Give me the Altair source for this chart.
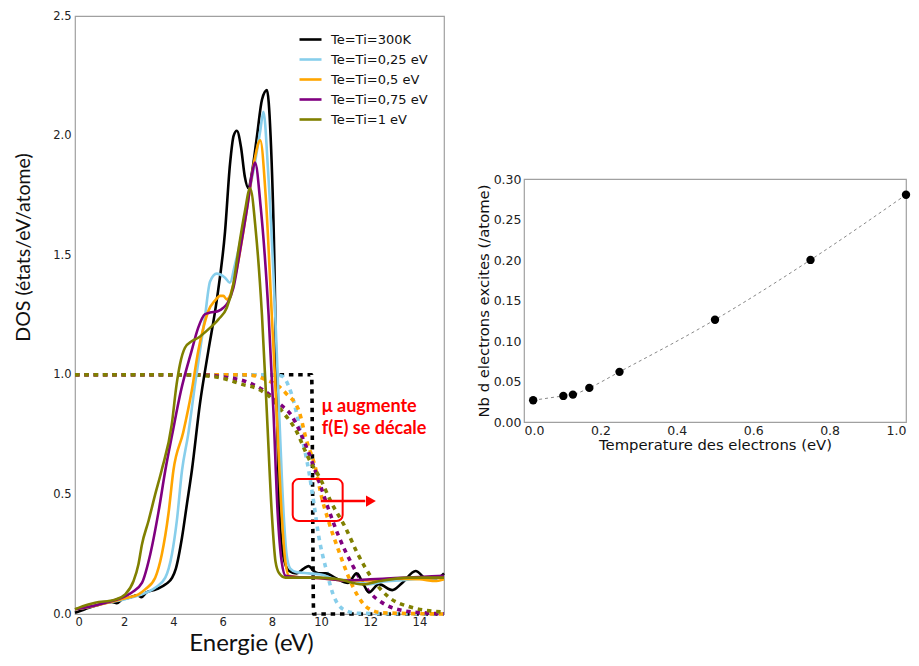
import altair as alt
import pandas as pd

# ---------------- data ----------------
SERIES = ["Te=Ti=300K", "Te=Ti=0,25 eV", "Te=Ti=0,5 eV", "Te=Ti=0,75 eV", "Te=Ti=1 eV"]
COLORS = ["#000000", "#87CEEB", "#FFA500", "#800080", "#808000"]

# DOS curves (solid)
dos_e_300k = [0, 0.4, 1.0, 1.5, 1.7, 1.9, 2.2, 2.55, 2.7, 2.9, 3.3, 3.7, 3.95, 4.1, 4.35, 4.55, 4.75,
              5.08, 5.42, 5.76, 6.1, 6.3, 6.45, 6.58, 6.75, 6.9, 7.05, 7.2, 7.4, 7.6, 7.8, 7.95, 8.1,
              8.2, 8.3, 8.45, 8.7, 9.0, 9.3, 9.5, 9.7, 9.9, 10.2, 10.6, 11.1, 11.45, 11.7, 11.95,
              12.35, 12.9, 13.3, 13.85, 14.27, 14.7, 15]
dos_v_300k = [0.005, 0.02, 0.04, 0.05, 0.045, 0.06, 0.068, 0.078, 0.07, 0.09, 0.103, 0.125, 0.152,
              0.19, 0.32, 0.46, 0.6, 0.88, 1.1, 1.31, 1.6, 1.88, 2.0, 2.02, 1.95, 1.83, 1.78, 1.85,
              2.0, 2.15, 2.19, 2.0, 1.5, 0.9, 0.45, 0.25, 0.18, 0.17, 0.19, 0.2, 0.18, 0.17, 0.17,
              0.15, 0.13, 0.17, 0.13, 0.09, 0.125, 0.1, 0.13, 0.18, 0.15, 0.15, 0.17]

dos_e_025 = [0, 0.41, 1.36, 2.04, 2.72, 3.26, 3.67, 3.94, 4.14, 4.35, 4.6, 4.88, 5.08, 5.28, 5.49,
             5.76, 6.1, 6.3, 6.5, 6.64, 7.0, 7.32, 7.53, 7.66, 7.85, 8.14, 8.3, 8.48, 8.6, 8.75,
             9.0, 9.5, 10.0, 10.6, 11.4, 11.95, 12.5, 13.3, 14.0, 15]
dos_v_025 = [0.02, 0.026, 0.048, 0.062, 0.082, 0.11, 0.152, 0.25, 0.39, 0.6, 0.75, 0.96, 1.10, 1.24,
             1.39, 1.423, 1.406, 1.385, 1.46, 1.52, 1.72, 1.89, 2.02, 2.10, 1.85, 1.25, 0.84, 0.42,
             0.25, 0.19, 0.175, 0.17, 0.165, 0.145, 0.138, 0.124, 0.135, 0.141, 0.148, 0.152]

dos_e_05 = [0, 0.41, 1.36, 2.04, 2.58, 2.85, 3.26, 3.53, 3.8, 4.0, 4.4, 4.74, 5.01, 5.22, 5.42, 5.69,
            5.9, 6.03, 6.17, 6.3, 6.44, 6.64, 7.0, 7.3, 7.53, 7.75, 8.0, 8.2, 8.4, 8.55, 8.7, 9.0,
            10.0, 11.0, 12.0, 13.0, 14.0, 14.7, 15]
dos_v_05 = [0.02, 0.026, 0.048, 0.066, 0.082, 0.103, 0.152, 0.25, 0.42, 0.6, 0.76, 0.93, 1.1, 1.197,
            1.267, 1.31, 1.33, 1.33, 1.315, 1.33, 1.38, 1.476, 1.7, 1.9, 1.98, 1.75, 1.25, 0.84,
            0.42, 0.22, 0.16, 0.155, 0.15, 0.14, 0.14, 0.148, 0.145, 0.138, 0.145]

dos_e_075 = [0, 0.27, 1.36, 1.9, 2.31, 2.72, 3.06, 3.4, 3.67, 3.95, 4.3, 4.74, 5.01, 5.28, 5.49,
             5.83, 6.03, 6.2, 6.44, 6.71, 7.0, 7.2, 7.32, 7.55, 7.87, 8.07, 8.24, 8.4, 8.56, 9.0,
             10.0, 11.0, 12.0, 13.0, 14.0, 15]
dos_v_075 = [0.02, 0.024, 0.05, 0.068, 0.09, 0.13, 0.25, 0.43, 0.6, 0.75, 0.93, 1.1, 1.197, 1.253,
             1.26, 1.267, 1.28, 1.3, 1.364, 1.52, 1.7, 1.84, 1.887, 1.7, 1.25, 0.84, 0.42, 0.22,
             0.16, 0.155, 0.15, 0.14, 0.145, 0.15, 0.155, 0.16]

dos_e_1 = [0, 0.54, 0.82, 1.63, 2.04, 2.38, 2.58, 2.72, 2.99, 3.26, 3.52, 3.93, 4.13, 4.27, 4.47,
           4.74, 5.01, 5.42, 5.83, 6.17, 6.44, 6.64, 6.9, 7.12, 7.35, 7.6, 7.8, 8.0, 8.15, 8.3,
           8.55, 9.91, 10.7, 11.7, 12.4, 13.6, 15]
dos_v_1 = [0.02, 0.04, 0.047, 0.06, 0.082, 0.138, 0.208, 0.29, 0.39, 0.5, 0.6, 0.79, 0.96, 1.045,
           1.113, 1.14, 1.155, 1.19, 1.232, 1.28, 1.38, 1.52, 1.68, 1.78, 1.6, 1.25, 0.84, 0.42,
           0.22, 0.17, 0.152, 0.152, 0.145, 0.124, 0.138, 0.152, 0.152]

# occupation f(E) curves (dotted)
f_e_300k = [0, 9.62, 9.7, 15]
f_v_300k = [1.0, 1.0, 0.0, 0.0]

f_e_025 = [0, 8.0, 8.4, 8.8, 9.2, 9.5, 9.7, 9.9, 10.2, 10.5, 10.9, 11.5, 15]
f_v_025 = [1.0, 1.0, 0.995, 0.92, 0.75, 0.6, 0.47, 0.33, 0.19, 0.08, 0.02, 0.003, 0.0]

f_e_05 = [0, 7.0, 7.75, 8.3, 8.6, 9.1, 9.4, 9.8, 10.0, 10.3, 10.7, 11.1, 11.5, 11.9, 12.5, 15]
f_v_05 = [1.0, 1.0, 0.98, 0.95, 0.92, 0.85, 0.73, 0.6, 0.5, 0.39, 0.27, 0.16, 0.075, 0.025, 0.005, 0.0]

f_e_075 = [0, 5.0, 6.1, 7.0, 7.87, 8.3, 8.8, 9.4, 9.9, 10.3, 10.7, 11.25, 11.9, 12.6, 13.3, 14.3, 15]
f_v_075 = [1.0, 1.0, 0.99, 0.97, 0.92, 0.88, 0.83, 0.7, 0.56, 0.44, 0.33, 0.21, 0.1, 0.04, 0.015,
           0.004, 0.001]

f_e_1 = [0, 4.5, 5.8, 6.8, 7.46, 8.0, 8.4, 8.97, 9.5, 10.0, 10.4, 11.0, 11.5, 12.07, 12.76, 13.6,
         14.3, 15]
f_v_1 = [1.0, 1.0, 0.99, 0.96, 0.94, 0.9, 0.85, 0.77, 0.65, 0.56, 0.47, 0.36, 0.25, 0.15, 0.07,
         0.03, 0.015, 0.008]

# right panel: excited electrons vs electron temperature
temp_ev = [0.024, 0.103, 0.128, 0.171, 0.25, 0.5, 0.75, 1.0]
n_excited = [0.0268, 0.0322, 0.0338, 0.0421, 0.0619, 0.1263, 0.2001, 0.2806]

# annotation texts / positions (data units)
annot_lines = ["μ augmente", "f(E) se décale"]
annot_x = [10.03, 10.03]
annot_y = [0.845, 0.753]
box_x = [8.85]
box_x2 = [10.88]
box_y = [0.389]
box_y2 = [0.564]
arrow_x = [9.99]
arrow_x2 = [11.8]
arrow_y = [0.472]
head_x = [12.03]

# ---------------- build tables ----------------
dos_sets = [(dos_e_300k, dos_v_300k), (dos_e_025, dos_v_025), (dos_e_05, dos_v_05),
            (dos_e_075, dos_v_075), (dos_e_1, dos_v_1)]
f_sets = [(f_e_300k, f_v_300k), (f_e_025, f_v_025), (f_e_05, f_v_05),
          (f_e_075, f_v_075), (f_e_1, f_v_1)]


def frame(sets):
    rows = []
    for name, (es, vs) in zip(SERIES, sets):
        for i, (e, v) in enumerate(zip(es, vs)):
            rows.append({"serie": name, "E": e, "V": v, "i": i})
    return pd.DataFrame(rows)


dos_df = frame(dos_sets)
f_df = frame(f_sets)

TICK_FONT = "DejaVu Sans"
TITLE_FONT = "Lato"

x_enc = alt.X("E:Q", scale=alt.Scale(domain=[0, 15], nice=False, zero=False),
              axis=alt.Axis(values=[0, 2, 4, 6, 8, 10, 12, 14], title="Energie (eV)",
                            labelFont=TICK_FONT, labelFontSize=11.5, labelColor="#222",
                            labelPadding=2, titleFont=TITLE_FONT, titleFontSize=24,
                            titleFontWeight="normal", titleColor="#111", titlePadding=4,
                            titleX=176))
y_enc = alt.Y("V:Q", scale=alt.Scale(domain=[0, 2.5], nice=False),
              axis=alt.Axis(values=[0, 0.5, 1.0, 1.5, 2.0, 2.5], format=".1f",
                            title="DOS (états/eV/atome)", labelFont=TICK_FONT,
                            labelFontSize=11.5, labelColor="#222", labelPadding=4,
                            titleFont=TITLE_FONT, titleFontSize=19.5, titleFontWeight="normal",
                            titleColor="#111", titlePadding=19, titleY=231))
color_scale = alt.Scale(domain=SERIES, range=COLORS)
legend = alt.Legend(title=None, orient="none", legendX=226, legendY=14,
                    symbolType="M-1.375,0H1.375", symbolSize=256, symbolStrokeWidth=2.6,
                    symbolDash=[30, 0],
                    labelFont=TICK_FONT, labelFontSize=13, labelColor="#111",
                    labelOffset=11, rowPadding=3, padding=0)
color_enc = alt.Color("serie:N", scale=color_scale, legend=legend)

layers = []
for k, name in enumerate(SERIES):
    layers.append(
        alt.Chart(f_df).transform_filter(alt.datum.serie == name)
        .mark_line(strokeWidth=3.6, strokeDash=[4.5, 4.8], strokeCap="butt", interpolate="monotone")
        .encode(x=x_enc, y=y_enc, order="i:Q", color=color_enc)
    )
for k, name in enumerate(SERIES):
    layers.append(
        alt.Chart(dos_df).transform_filter(alt.datum.serie == name)
        .mark_line(strokeWidth=2.6, interpolate="monotone")
        .encode(x=x_enc, y=y_enc, order="i:Q", color=color_enc)
    )

box_df = pd.DataFrame({"E": box_x, "E2": box_x2, "V": box_y, "V2": box_y2})
box = alt.Chart(box_df).mark_rect(fillOpacity=0, stroke="#FF0000", strokeWidth=2,
                                  cornerRadius=6).encode(x="E:Q", x2="E2:Q", y="V:Q", y2="V2:Q")
arrow_df = pd.DataFrame({"E": arrow_x, "E2": arrow_x2, "V": arrow_y})
arrow = alt.Chart(arrow_df).mark_rule(color="#FF0000", strokeWidth=2.5).encode(
    x="E:Q", x2="E2:Q", y="V:Q")
head_df = pd.DataFrame({"E": head_x, "V": arrow_y})
head = alt.Chart(head_df).mark_point(shape="triangle-right", filled=True, color="#FF0000",
                                     opacity=1, size=130).encode(x="E:Q", y="V:Q")
text_df = pd.DataFrame({"E": annot_x, "V": annot_y, "t": annot_lines})
texts = alt.Chart(text_df).mark_text(align="left", baseline="alphabetic", font=TITLE_FONT,
                                     fontSize=18, fontWeight="bold", color="#FF0000").encode(
    x="E:Q", y="V:Q", text="t:N")

left = alt.layer(*layers, box, arrow, head, texts).properties(width=369, height=598)

# ---------------- right panel ----------------
r_df = pd.DataFrame({"T": temp_ev, "N": n_excited})
rx = alt.X("T:Q", scale=alt.Scale(domain=[0, 1], nice=False),
           axis=alt.Axis(values=[0, 0.2, 0.4, 0.6, 0.8, 1.0], format=".1f",
                         title="Temperature des electrons (eV)", labelFont=TICK_FONT,
                         labelFontSize=12.5, labelColor="#222", labelPadding=2,
                         titleFont=TICK_FONT, titleFontSize=14.8, titleFontWeight="normal",
                         titleColor="#111", titlePadding=1))
ry = alt.Y("N:Q", scale=alt.Scale(domain=[0, 0.3], nice=False),
           axis=alt.Axis(values=[0, 0.05, 0.1, 0.15, 0.2, 0.25, 0.3], format=".2f",
                         title="Nb d electrons excites (/atome)", labelFont=TICK_FONT,
                         labelFontSize=12.5, labelColor="#222", labelPadding=3,
                         titleFont=TICK_FONT, titleFontSize=14.8, titleFontWeight="normal",
                         titleColor="#111", titlePadding=2))
r_line = alt.Chart(r_df).mark_line(color="#888888", strokeWidth=1, strokeDash=[3, 3],
                                   interpolate="monotone").encode(x=rx, y=ry)
r_pts = alt.Chart(r_df).mark_circle(color="#000000", opacity=1, size=70).encode(x=rx, y=ry)
right = alt.layer(r_line, r_pts).properties(width=382, height=243)

spacer = alt.Chart(pd.DataFrame({"s": [0]})).mark_point(opacity=0, size=0).encode(
    x=alt.X("s:Q", axis=None), y=alt.Y("s:Q", axis=None)
).properties(width=300, height=156, view=alt.ViewBackground(stroke=None))

chart = alt.hconcat(left, alt.vconcat(spacer, right, spacing=0), spacing=23).properties(
    padding={"left": 5, "top": 1, "right": 0, "bottom": 0}
).configure_view(stroke="#a0a0a0", strokeWidth=1.2).configure_axis(
    grid=False, ticks=False, domain=False
)

chart.save("out.html", embed_options={"renderer": "svg", "actions": False})
